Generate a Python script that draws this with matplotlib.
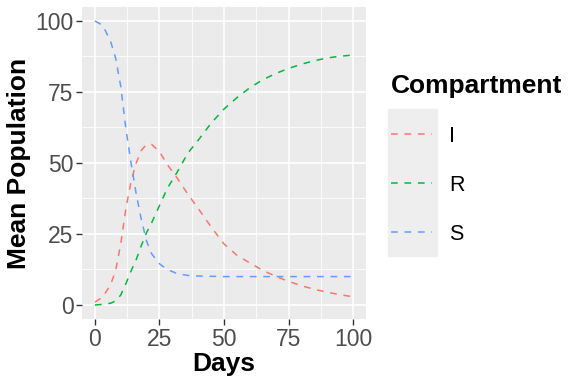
import matplotlib
matplotlib.use("Agg")
import matplotlib.pyplot as plt
from matplotlib.patches import Rectangle
from matplotlib.ticker import MultipleLocator

plt.rcParams['font.family'] = ['Liberation Sans', 'DejaVu Sans']

# mean population per compartment
days = [0, 3, 6, 8, 10, 12, 14, 16, 18, 20, 22, 25, 28, 32, 36, 40, 45,
        50, 55, 60, 65, 70, 75, 80, 85, 90, 95, 100]
S = [100, 98.5, 93, 87, 77, 62, 50, 39, 30, 22.5, 18, 14.5, 12.5, 11, 10.4,
     10.2, 10.1, 10, 10, 10, 10, 10, 10, 10, 10, 10, 10, 10]
I = [1, 2.8, 7, 12, 21.5, 34, 43.5, 50, 54.5, 56.5, 56.5, 54, 49.5, 44.5,
     39, 34, 27.5, 21.5, 17.5, 14.8, 12.2, 10.1, 8.3, 6.8, 5.5, 4.5, 3.6, 2.9]
R = [0, 0.2, 0.6, 1.4, 3.5, 7.5, 12, 16, 21, 25.5, 29, 35, 41, 47, 53.5,
     58, 64, 69, 73, 76.5, 79.3, 81.5, 83.3, 84.8, 86, 87, 87.6, 88]

series = [("I", I, "#F8766D"), ("R", R, "#00BA38"), ("S", S, "#619CFF")]

fig = plt.figure(figsize=(5.76, 3.84), dpi=100)
ax = fig.add_axes([0.1424, 0.1688, 0.4930, 0.8135])
ax.set_facecolor("#EBEBEB")

for name, vals, col in series:
    ax.plot(days, vals, color=col, lw=1.1, linestyle=(0, (4.4, 4.4)), label=name)

ax.set_xlim(-5, 105)
ax.set_ylim(-5, 105)
ax.xaxis.set_major_locator(MultipleLocator(25))
ax.yaxis.set_major_locator(MultipleLocator(25))
ax.xaxis.set_minor_locator(MultipleLocator(12.5))
ax.yaxis.set_minor_locator(MultipleLocator(12.5))
ax.grid(which="major", color="white", lw=1.2)
ax.grid(which="minor", color="white", lw=0.6)
ax.set_axisbelow(True)
for sp in ax.spines.values():
    sp.set_visible(False)
ax.tick_params(which="major", length=4, width=1, color="#333333",
               labelsize=16.5, labelcolor="#4D4D4D", pad=2)
ax.tick_params(which="minor", length=0)

ax.set_xlabel("Days", fontsize=19, fontweight="bold", labelpad=1)
ax.set_ylabel("Mean Population", fontsize=19, fontweight="bold", labelpad=3)

# grey key column behind the legend lines
fig.patches.append(Rectangle((388 / 576, 1 - 256 / 384), 49 / 576, 147 / 384,
                             transform=fig.transFigure, color="#EEEEEE", zorder=0))
leg = fig.legend(loc="upper left", bbox_to_anchor=(391 / 576, 1 - 74 / 384),
                 frameon=False, fontsize=15.5, title="Compartment",
                 title_fontproperties={"size": 19, "weight": "bold"},
                 alignment="left", handlelength=1.9, labelspacing=1.3,
                 handletextpad=0.8, borderpad=0, borderaxespad=0)

fig.savefig("out.png", dpi=100)
